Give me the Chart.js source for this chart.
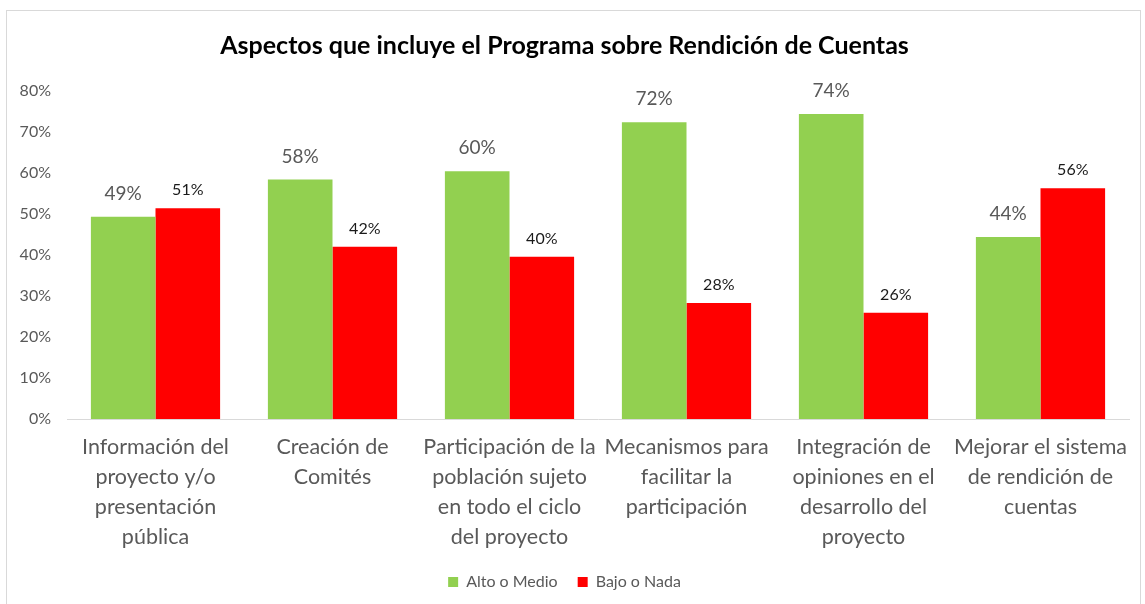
<!DOCTYPE html>
<html>
<head>
<meta charset="utf-8">
<script src="https://cdn.jsdelivr.net/npm/chart.js@4.4.0/dist/chart.umd.min.js"></script>
<style>
  body { margin: 0; background: #fff; }
  #wrap { position: relative; width: 1145px; height: 604px; }
  #frame { position: absolute; left: 6px; top: 10px; width: 1133px; height: 600px; border: 1px solid #d9d9d9; pointer-events: none; }
</style>
</head>
<body>
<div id="wrap">
  <canvas id="bar_chart" width="1145" height="604"></canvas>
  <div id="frame"></div>
</div>
<script>
///////////   DATA  /////////////////

const categories = [
  ["Información del", "proyecto y/o", "presentación", "pública"],
  ["Creación de", "Comités"],
  ["Participación de la", "población sujeto", "en todo el ciclo", "del proyecto"],
  ["Mecanismos para", "facilitar la", "participación"],
  ["Integración de", "opiniones en el", "desarrollo del", "proyecto"],
  ["Mejorar el sistema", "de rendición de", "cuentas"]
];

const alto_medio = [49.3, 58.4, 60.4, 72.4, 74.4, 44.4];
const bajo_nada = [51.4, 42.0, 39.6, 28.3, 25.9, 56.3];

const series_names = ["Alto o Medio", "Bajo o Nada"];
const y_ticks = [0, 10, 20, 30, 40, 50, 60, 70, 80];

const FONT = "Lato, 'Open Sans', sans-serif";

////////////// VALUE LABELS /////////////

const valueLabels = {
  id: "valueLabels",
  afterDatasetsDraw(chart) {
    const ctx = chart.ctx;
    chart.data.datasets.forEach((ds, i) => {
      const meta = chart.getDatasetMeta(i);
      ctx.save();
      ctx.textAlign = "center";
      ctx.textBaseline = "alphabetic";
      if (i === 0) {
        ctx.font = "19px " + FONT;
        ctx.fillStyle = "#595959";
      } else {
        ctx.font = "16px " + FONT;
        ctx.fillStyle = "#1a1a1a";
      }
      meta.data.forEach((bar, j) => {
        const off = i === 0 ? 17 : 13;
        ctx.fillText(Math.round(ds.data[j]) + "%", bar.x, bar.y - off);
      });
      ctx.restore();
    });
  }
};

////////////// BAR CHART /////////////

new Chart(document.querySelector("#bar_chart"), {
  type: "bar",
  data: {
    labels: categories,
    datasets: [
      {
        label: series_names[0],
        data: alto_medio,
        backgroundColor: "#92d050",
        barPercentage: 1,
        categoryPercentage: 0.73
      },
      {
        label: series_names[1],
        data: bajo_nada,
        backgroundColor: "#ff0000",
        barPercentage: 1,
        categoryPercentage: 0.73
      }
    ]
  },
  plugins: [valueLabels],
  options: {
    responsive: false,
    animation: false,
    layout: { padding: { left: 0, right: 16, top: 0, bottom: 4 } },
    plugins: {
      title: {
        display: true,
        text: "Aspectos que incluye el Programa sobre Rendición de Cuentas",
        color: "#000",
        font: { family: FONT, size: 25, weight: "bold" },
        padding: { top: 31, bottom: 30 }
      },
      legend: {
        position: "bottom",
        labels: {
          boxWidth: 10,
          boxHeight: 10,
          padding: 20,
          color: "#595959",
          font: { family: FONT, size: 16 }
        }
      },
      tooltip: { enabled: false }
    },
    scales: {
      x: {
        grid: { display: false, drawTicks: false },
        border: { color: "#d9d9d9", width: 1 },
        ticks: {
          color: "#595959",
          font: { family: FONT, size: 21.5, lineHeight: 1.4 },
          padding: 13,
          maxRotation: 0,
          autoSkip: false
        },
        afterFit(scale) { scale.height = 135; }
      },
      y: {
        min: 0,
        max: 80,
        afterBuildTicks(scale) { scale.ticks = y_ticks.map(v => ({ value: v })); },
        grid: { display: false, drawTicks: false },
        border: { display: false },
        ticks: {
          color: "#595959",
          font: { family: FONT, size: 16 },
          padding: 16,
          callback: v => v + "%"
        },
        afterFit(scale) { scale.width = 67; }
      }
    }
  }
});
</script>
</body>
</html>
